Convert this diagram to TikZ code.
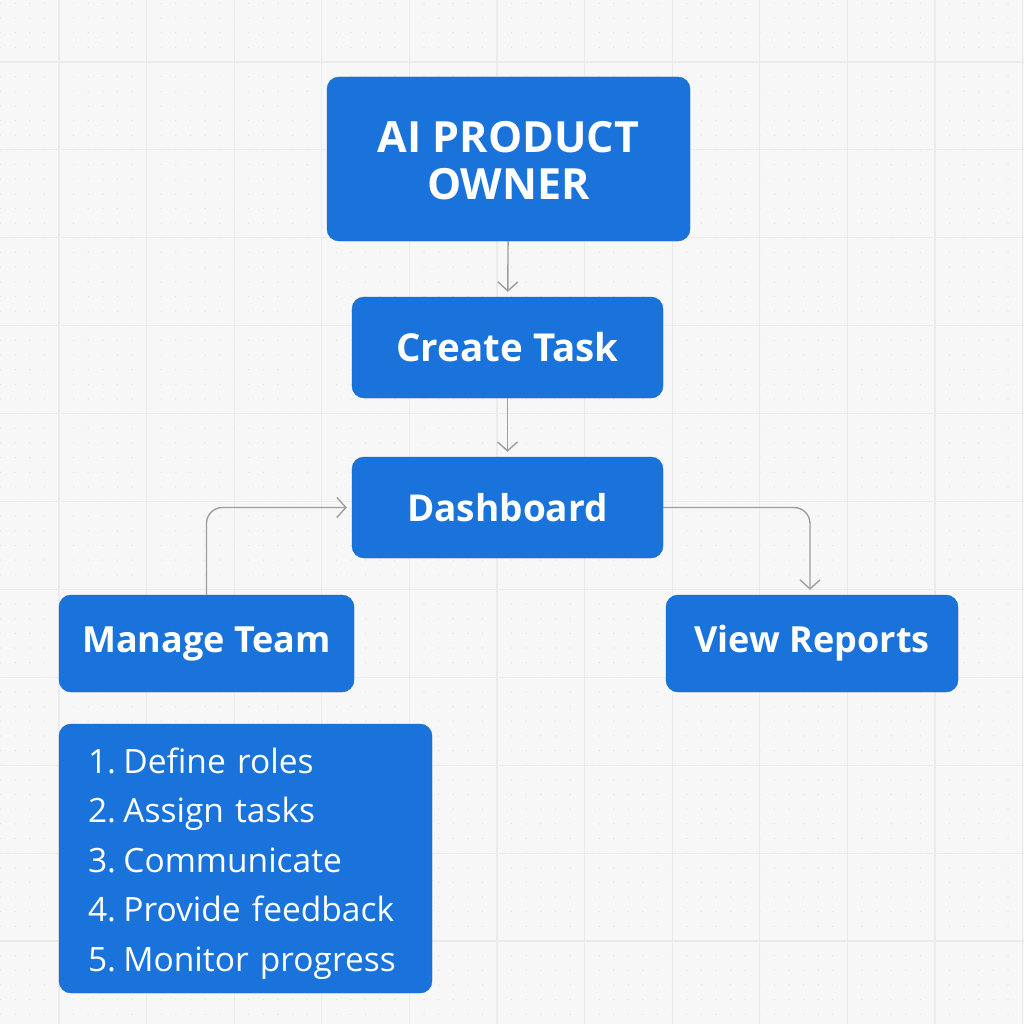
\documentclass[tikz,border=0pt]{standalone}
\usepackage{fontspec}
\setmainfont{Open Sans}
\usepackage{tikz}
\usetikzlibrary{arrows.meta}
\definecolor{boxblue}{HTML}{1A73DA}
\definecolor{boxedge}{HTML}{1666C8}
\definecolor{linegray}{HTML}{9E9E9E}
\definecolor{paper}{HTML}{F7F7F7}
\definecolor{gridline}{HTML}{EBEBEB}
\definecolor{griddot}{HTML}{E3E3E3}
\newcommand{\stepno}[1]{#1.\kern0.22em}

\begin{document}
\begin{tikzpicture}[x=1pt, y=-1pt,
	box/.style={draw=boxedge, fill=boxblue, rounded corners=12pt, text=white, font=\bfseries\fontsize{37}{46}\selectfont, align=center, inner sep=0pt},
	link/.style={-{Straight Barb[length=9pt,width=20pt]}, linegray, line width=1.4pt, shorten >=5pt, rounded corners=16pt}]
	% background with grid
	\fill [paper] (0,0) rectangle (1024,1024);
	\useasboundingbox (0,0) rectangle (1024,1024);
	\foreach \i in {0,...,69} {
		\foreach \j in {0,...,69} {
			\fill [griddot] (\i*14.6+0.6, \j*14.65+3.4) circle (0.75pt);
		}
	}
	\foreach \i in {0,...,11} {
		\draw [gridline, line width=1.2pt] (59+\i*87.6,0) -- (59+\i*87.6,1024);
		\draw [gridline, line width=1.2pt] (0,62+\i*87.9) -- (1024,62+\i*87.9);
	}

	\node [box, minimum width=363pt, minimum height=164pt, font=\bfseries\fontsize{43}{47}\selectfont] (owner) at (508.5,159) {\rule{0pt}{34pt}AI PRODUCT\\OWNER};
	\node [box, minimum width=311pt, minimum height=101pt, font=\bfseries\fontsize{38.5}{46}\selectfont] (create) at (507.5,347.5) {Create Task};
	\node [box, minimum width=311pt, minimum height=101pt] (dash) at (507.5,507.5) {Dashboard};
	\node [box, minimum width=295pt, minimum height=97pt, font=\bfseries\fontsize{36}{46}\selectfont] (team) at (206.5,643.5) {Manage Team};
	\node [box, minimum width=292pt, minimum height=97pt, font=\bfseries\fontsize{36}{46}\selectfont] (reports) at (812,643.5) {View Reports};
	\node [box, minimum width=373pt, minimum height=269pt, align=left, text width=315pt, inner xsep=29pt,
		font=\fontsize{33.5}{49.5}\selectfont] (tasks) at (245.5,858.5) {\rule{0pt}{36pt}\stepno{1}Define roles\\\stepno{2}Assign tasks\\\stepno{3}Communicate\\\stepno{4}Provide feedback\\\stepno{5}Monitor progress};

	\draw [link] (owner) -- (create);
	\draw [link] (create) -- (dash);
	\draw [link] (team.north) |- (dash.west);
	\draw [link] (dash.east) -| ([xshift=-2pt] reports.north);
\end{tikzpicture}
\end{document}
